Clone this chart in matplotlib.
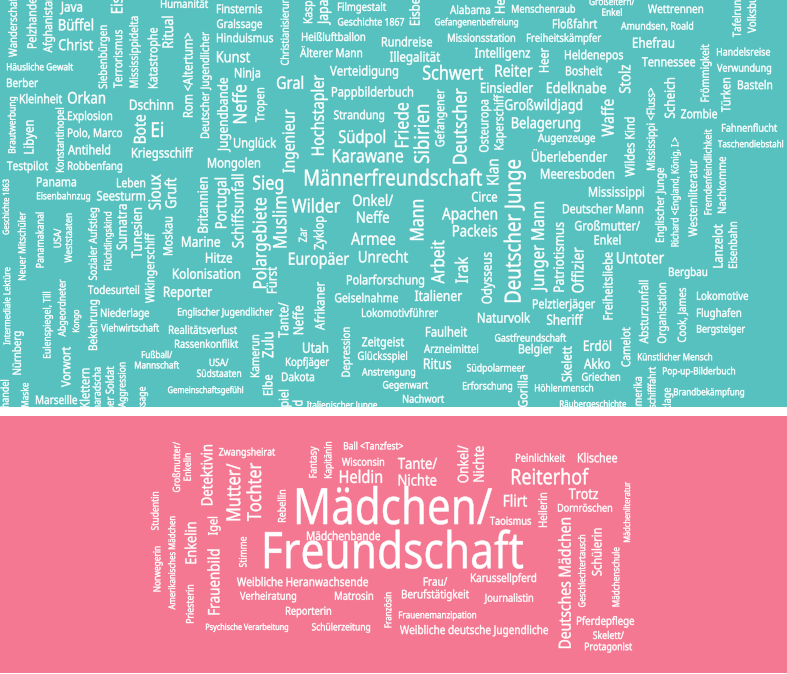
import matplotlib
matplotlib.use("Agg")
import matplotlib.pyplot as plt
from matplotlib.textpath import TextPath
from matplotlib.font_manager import FontProperties
from matplotlib.patches import PathPatch, Rectangle
from matplotlib.transforms import Affine2D

W, H = 787, 674
TEAL = "#56c1be"
PINK = "#f47891"

# words of the boys' cloud (top)
boys_words = [
    "Wanderschaft", "Pelzhandel", "Afghanistan", "Java", "Eiszeit", "Büffel", "Christ",
    "Humanität", "Finsternis", "Gralssage", "Hinduismus", "Kunst", "Ninja",
    "Siebenbürgen", "Terrorismus", "Mississippidelta", "Katastrophe", "Ritual",
    "Rom <Altertum>", "Deutscher Jugendlicher", "Häusliche Gewalt", "Berber",
    "Brautwerbung", "Kleinheit", "Orkan", "Libyen", "Konstantinopel", "Explosion",
    "Polo, Marco", "Antiheld", "Robbenfang", "Testpilot", "Dschinn", "Bote", "Ei",
    "Kriegsschiff", "Jugendbande", "Neffe", "Tropen", "Unglück", "Mongolen",
    "Geschichte 1863", "Panama", "Leben", "Eisenbahnzug", "Seesturm", "Sioux", "Gruft",
    "Britannien", "Portugal", "Schiffsunfall", "Sieg", "Kaspar Hauser", "Japan",
    "Filmgestalt", "Geschichte 1867", "Eisberg", "Alabama", "Heirat", "Menschenraub",
    "Christianisierung", "Heißluftballon", "Gefangenenbefreiung", "Rundreise",
    "Missionsstation", "Älterer Mann", "Illegalität", "Intelligenz", "Verteidigung",
    "Schwert", "Reiter", "Gral", "Hochstapler", "Pappbilderbuch", "Einsiedler",
    "Ingenieur", "Strandung", "Friede", "Sibirien", "Gefangener", "Deutscher",
    "Osteuropa", "Kaperschiff", "Großwildjagd", "Belagerung", "Südpol", "Karawane",
    "Männerfreundschaft", "Klan", "Circe", "Deutscher Junge", "Onkel/\nNeffe", "Wilder",
    "Mann", "Muslim", "Zar", "Zyklop", "Armee", "Apachen", "Packeis", "Europäer",
    "Unrecht", "Arbeit", "Irak", "Odysseus", "Polarforschung", "Fürst", "Polargebiete",
    "Geiselnahme", "Italiener", "Afrikaner", "Lokomotivführer", "Tante/\nNeffe",
    "Englischer Jugendlicher", "Naturvolk", "Faulheit", "Gastfreundschaft", "Depression",
    "Zeitgeist", "Zulu", "Utah", "Arzneimittel", "Belgier", "Glücksspiel", "Kopfjäger",
    "Ritus", "Südpolarmeer", "Anstrengung", "Dakota", "Elbe", "Gegenwart", "Erforschung",
    "Gorilla", "Skelett", "Nachwort", "Italienischer Junge", "Kartenspiel\nFreund",
    "Kamerun", "Camelot", "Erdöl", "Akko", "Griechen", "Höhlenmensch",
    "Räubergeschichte", "Künstlicher Mensch", "Pop-up-Bilderbuch", "Brandbekämpfung",
    "Lateinamerika", "Dampfschifffahrt", "Anklage", "Aussage", "Absturzunfall",
    "Organisation", "Cook, James", "Lokomotive", "Flughafen", "Bergsteiger",
    "Freiheitsliebe", "Untoter", "Bergbau", "Lanzelot", "Eisenbahn", "Englischer Junge",
    "Richard <England, König, I.>", "Westernliteratur", "Fremdenfeindlichkeit",
    "Nachkomme", "Deutscher Mann", "Mississippi", "Großmutter/\nEnkel", "Junger Mann",
    "Patriotismus", "Offizier", "Pelztierjäger", "Sheriff", "Großeltern/\nEnkel",
    "Wettrennen", "Tafelrunde", "Volksbuch", "Floßfahrt", "Amundsen, Roald",
    "Freiheitskämpfer", "Ehefrau", "Heer", "Heldenepos", "Tennessee", "Frömmigkeit",
    "Handelsreise", "Verwundung", "Bosheit", "Stolz", "Edelknabe", "Türken", "Basteln",
    "Scheich", "Zombie", "Mississippi <Fluss>", "Waffe", "Wildes Kind", "Augenzeuge",
    "Überlebender", "Meeresboden", "Fahnenflucht", "Taschendiebstahl",
    "Neuer Mitschüler", "Panamakanal", "USA/\nWeststaaten", "Sozialer Aufstieg",
    "Flüchtlingskind", "Sumatra", "Tunesien", "Wikingerschiff", "Moskau", "Marine",
    "Hitze", "Kolonisation", "Reporter", "Intermediale Lektüre", "Eulenspiegel, Till",
    "Abgeordneter", "Kongo", "Todesurteil", "Bekehrung", "Niederlage", "Viehwirtschaft",
    "Realitätsverlust", "Rassenkonflikt", "Nürnberg", "Vorwort", "Fußball/\nMannschaft",
    "USA/\nSüdstaaten", "Gemeinschaftsgefühl", "Sklavenhandel", "Maske", "Marseille",
    "Klettern", "Maharadscha", "Deutscher Soldat", "Aggression",
]

# placement in pixels: (centre x, centre y, length along the text, rotation)
boys_layout = [
    (13, 26, 62, 90), (32, 22, 52, 90), (48, 24, 57, 90), (71, 7, 22, 0), (117, -6, 38, 90),
    (76, 25, 34, 0), (76, 45, 34, 0), (184.5, 4, 47, 0), (239.5, 9, 45, 0), (239.5, 24, 45, 0),
    (245, 38, 56, 0), (233.5, 57, 33, 0), (247.5, 73, 25, 0), (103, 57, 63, 90),
    (118, 59, 58, 90), (134, 52, 71, 90), (153, 58, 60, 90), (168, 32, 31, 90),
    (188, 75, 84, 90), (205, 85, 106, 90), (40, 67, 66, 0), (22.5, 83, 31, 0),
    (12, 125, 56, 90), (41, 99, 42, 0), (86.5, 98, 37, 0), (29, 137, 33, 90),
    (60, 140, 64, 90), (90, 116, 44, 0), (95, 133, 54, 0), (89, 150, 42, 0),
    (95, 166, 54, 0), (27.5, 166, 41, 0), (151.5, 105, 43, 0), (140, 129, 28, 90),
    (157.5, 130, 11, 0), (162.5, 153, 61, 0), (223, 115, 74, 90), (240, 104, 38, 90),
    (260, 105, 34, 90), (255, 143, 42, 0), (234, 163, 52, 0), (6, 207, 55, 90),
    (56.5, 182, 39, 0), (131, 183, 28, 0), (63.5, 196, 53, 0), (121, 196, 48, 0),
    (155, 192, 35, 90), (171, 193, 30, 90), (203, 205, 55, 90), (221, 203, 50, 90),
    (238, 211, 73, 90), (268, 183, 30, 0), (308, -12, 70, 90), (323, 9, 32, 90),
    (362, 7, 48, 0), (371, 22, 66, 0), (415, 6, 38, 90), (470, 10, 40, 0),
    (500, -3, 32, 90), (543.5, 9, 63, 0), (285, 29, 72, 90), (333.5, 37, 63, 0),
    (476.5, 22, 83, 0), (407, 42, 50, 0), (481.5, 38, 67, 0), (331, 53, 62, 0),
    (415, 57, 50, 0), (502.5, 53, 55, 0), (364, 71, 68, 0), (453, 73, 60, 0),
    (514, 71, 37, 0), (290, 83, 26, 0), (318, 115, 80, 90), (372.5, 92, 81, 0),
    (507, 88, 52, 0), (289, 141, 63, 90), (359, 115, 50, 0), (402, 125, 44, 90),
    (422, 134, 58, 90), (440, 118, 57, 90), (460, 126, 75, 90), (484, 126, 52, 90),
    (499, 122, 55, 90), (543.5, 105, 77, 0), (546, 123, 68, 0), (362, 137, 46, 0),
    (368, 156, 70, 0), (393.5, 178, 177, 0), (493, 172, 25, 90), (484.5, 197, 25, 0),
    (513, 231, 142, 90), (373, 209, 40, 0), (316, 206, 48, 0), (417, 220, 40, 90),
    (280, 222, 51, 90), (303, 235, 14, 90), (319, 233, 33, 90), (373, 239, 44, 0),
    (469.5, 214, 55, 0), (475, 231, 44, 0), (319, 259, 60, 0), (383.5, 257, 49, 0),
    (438, 262, 43, 90), (462, 270, 26, 90), (487, 278, 51, 90), (385.5, 280, 77, 0),
    (272, 280, 26, 90), (260, 243, 90, 90), (366.5, 298, 63, 0), (438.5, 296, 47, 0),
    (320, 306, 48, 90), (400, 313, 76, 0), (291, 320, 35, 90), (225.5, 312, 95, 0),
    (504, 318, 52, 0), (446.5, 332, 41, 0), (530.5, 338, 71, 0), (346, 352, 49, 90),
    (383, 342, 42, 0), (268, 345, 25, 90), (315.5, 348, 25, 0), (451, 349, 54, 0),
    (536, 349, 34, 0), (382.5, 356, 49, 0), (307.5, 362, 43, 0), (437.5, 364, 27, 0),
    (496, 368, 58, 0), (388.5, 372, 53, 0), (298, 377, 32, 0), (268, 385, 20, 90),
    (405.5, 385, 45, 0), (487.5, 386, 49, 0), (523, 391, 32, 90), (567, 364, 35, 90),
    (423.5, 399, 41, 0), (342, 405, 70, 0), (291, 418, 56, 90), (255, 356, 42, 90),
    (626, 347, 39, 90), (597.5, 346, 27, 0), (597, 364, 26, 0), (601, 377, 38, 0),
    (564, 388, 58, 0), (593, 404, 66, 0), (675, 357, 74, 0), (699, 371, 72, 0),
    (709, 392, 70, 0), (638, 407, 60, 90), (652, 401, 68, 90), (667, 405, 34, 90),
    (142, 404, 34, 90), (644, 312, 63, 90), (662, 313, 60, 90), (682, 315, 54, 90),
    (722.5, 296, 51, 0), (719, 313, 44, 0), (721, 329, 48, 0), (608, 286, 67, 90),
    (640.5, 258, 47, 0), (688, 272, 38, 0), (718, 246, 43, 90), (733, 245, 46, 90),
    (660, 205, 74, 90), (675, 192, 109, 90), (693, 198, 77, 90), (708, 172, 85, 90),
    (722, 185, 56, 90), (603, 209, 80, 0), (616.5, 192, 55, 0), (607.5, 233, 65, 0),
    (538, 247, 90, 90), (559, 257, 69, 90), (578, 270, 45, 90), (564, 304, 62, 0),
    (565, 320, 36, 0), (612, 7, 45, 0), (675.5, 9, 55, 0), (737, 13, 48, 90),
    (752, 10, 46, 90), (575, 24, 44, 0), (657, 26, 72, 0), (564, 38, 74, 0),
    (653.5, 43, 41, 0), (544, 60, 24, 90), (594, 55, 58, 0), (668.5, 62, 53, 0),
    (705, 73, 57, 90), (743.5, 52, 53, 0), (744, 68, 54, 0), (584, 71, 36, 0),
    (625, 79, 28, 90), (576.5, 88, 59, 0), (726, 95, 34, 90), (755, 85, 34, 0),
    (670, 98, 40, 90), (699, 114, 36, 0), (651, 129, 82, 90), (608, 118, 37, 90),
    (630, 147, 59, 90), (566.5, 138, 57, 0), (569.5, 157, 75, 0), (577.5, 174, 73, 0),
    (749.5, 128, 55, 0), (750.5, 144, 65, 0),
    (22, 246, 68, 90), (40, 240, 55, 90), (63, 238, 49, 90), (93, 244, 72, 90),
    (108, 241, 58, 90), (122, 227, 45, 90), (137, 233, 50, 90), (150, 268, 70, 90),
    (168, 236, 38, 90), (201, 242, 38, 0), (219, 258, 26, 0), (206.5, 274, 67, 0),
    (188, 292, 48, 0), (7, 306, 77, 90), (47, 325, 66, 90), (62, 308, 57, 90),
    (76, 321, 22, 90), (113.5, 290, 51, 0), (93, 325, 50, 90), (125, 313, 48, 0),
    (130, 328, 58, 0), (203, 330, 68, 0), (206.5, 344, 63, 0), (17, 353, 43, 90),
    (66, 367, 40, 90), (157, 360, 44, 0), (219, 368, 44, 0), (205.5, 390, 75, 0),
    (5, 410, 60, 90), (25, 395, 24, 90), (56.5, 400, 41, 0), (85, 388, 39, 90),
    (97, 395, 55, 90), (110, 404, 75, 90), (122, 385, 45, 90),
]

# words of the girls' cloud (bottom)
girls_words = [
    "Großmutter/\nEnkelin", "Detektivin", "Zwangsheirat", "Mutter/\nTochter", "Fantasy",
    "Kapitänin", "Ball <Tanzfest>", "Wisconsin", "Heldin", "Rebellin", "Studentin", "Igel",
    "Enkelin", "Amerikanisches Mädchen", "Norwegerin", "Priesterin", "Frauenbild",
    "Stimme", "Mädchen/", "Freundschaft", "Mädchenbande", "Weibliche Heranwachsende",
    "Verheiratung", "Matrosin", "Reporterin", "Psychische Verarbeitung",
    "Schülerzeitung", "Französin", "Tante/\nNichte", "Onkel/\nNichte", "Peinlichkeit",
    "Klischee", "Reiterhof", "Trotz", "Flirt", "Dornröschen", "Mädchenliteratur",
    "Heilerin", "Taoismus", "Deutsches Mädchen", "Geschlechtertausch", "Schülerin",
    "Mädchenschule", "Karussellpferd", "Frau/\nBerufstätigkeit", "Journalistin",
    "Frauenemanzipation", "Weibliche deutsche Jugendliche", "Pferdepflege",
    "Skelett/\nProtagonist",
]

girls_layout = [
    (182, 467, 50, 90), (207, 475, 60, 90), (247, 452, 56, 0), (244, 492, 58, 90),
    (313, 462, 31, 90), (328, 460, 36, 90), (373.5, 446, 59, 0), (363, 462, 42, 0),
    (361, 477, 42, 0), (282, 506, 32, 90), (155, 511, 38, 90), (213, 526, 18, 90),
    (191, 543, 41, 90), (172, 563, 93, 90), (157, 569, 45, 90), (190, 604, 38, 90),
    (214, 582, 65, 90), (243, 552, 30, 90), (394.5, 507, 195, 0), (394, 551, 258, 0),
    (343.5, 536, 73, 0), (302.5, 582, 131, 0), (268, 596, 56, 0), (354, 596, 38, 0),
    (308.5, 611, 45, 0), (247, 627, 82, 0), (341, 627, 58, 0), (388, 610, 35, 90),
    (417.5, 472, 39, 0), (471, 464, 37, 90), (540.5, 458, 49, 0), (597.5, 458, 39, 0),
    (550.5, 477, 77, 0), (583.5, 494, 29, 0), (515.5, 501, 23, 0), (585, 508, 54, 0),
    (627, 512, 60, 90), (543, 510, 34, 90), (510.5, 521, 41, 0), (565, 583, 130, 90),
    (582, 571, 72, 90), (597, 552, 47, 90), (616, 577, 59, 90), (503.5, 578, 65, 0),
    (435.5, 588, 67, 0), (508.5, 598, 49, 0), (437.5, 615, 77, 0), (474, 630, 148, 0),
    (605.5, 621, 57, 0), (608.5, 641, 47, 0),
]

fp = FontProperties(family="Noto Sans")
SQUEEZE = 0.84
LINE = 1.08


def draw_word(ax, word, x, y, length, rot, clip):
    lines = word.split("\n")
    paths = [TextPath((0, 0), ln, size=100, prop=fp) for ln in lines]
    widest = max(p.get_extents().width for p in paths) / 100
    s = length / (widest * SQUEEZE)
    n = len(lines)
    for i, p in enumerate(paths):
        ext = p.get_extents()
        cx = (ext.x0 + ext.x1) / 2
        dy = ((n - 1) / 2 - i) * LINE * 100
        t = (Affine2D().translate(-cx, -34 + dy)
             .scale(SQUEEZE * s / 100, s / 100)
             .rotate_deg(rot).translate(x, H - y))
        patch = PathPatch(p, transform=t + ax.transData, fc="white", ec="white",
                          lw=0.3, joinstyle="round")
        ax.add_patch(patch)
        patch.set_clip_path(clip)


fig = plt.figure(figsize=(W / 100, H / 100), dpi=100)
ax = fig.add_axes([0, 0, 1, 1])
ax.set_xlim(0, W)
ax.set_ylim(0, H)
ax.axis("off")

top = Rectangle((0, H - 407), W, 407, fc=TEAL, ec="none")
bottom = Rectangle((0, H - 673), W, 257, fc=PINK, ec="none")
ax.add_patch(top)
ax.add_patch(bottom)

for w, (x, y, l, r) in zip(boys_words, boys_layout):
    draw_word(ax, w, x, y, l, r, top)
for w, (x, y, l, r) in zip(girls_words, girls_layout):
    draw_word(ax, w, x, y, l, r, bottom)

fig.savefig("out.png", dpi=100, facecolor="white")
